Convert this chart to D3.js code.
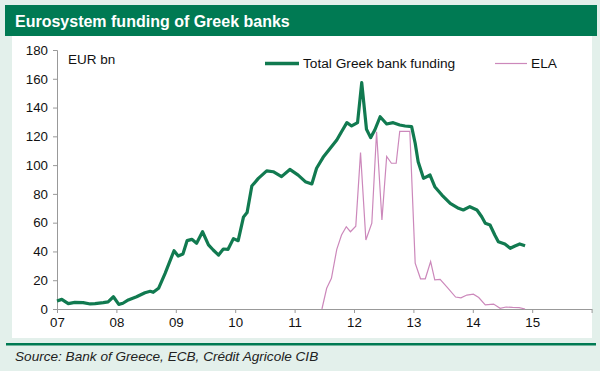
<!DOCTYPE html>
<html><head><meta charset="utf-8">
<script src="https://cdn.jsdelivr.net/npm/d3@7"></script>
<style>
html,body{margin:0;padding:0;background:#e3f0eb;}
svg{display:block;font-family:"Liberation Sans",Arial,sans-serif;}
</style></head>
<body>
<svg id="c" width="600" height="371"></svg>
<script>
const title = "Eurosystem funding of Greek banks";
const source = "Source: Bank of Greece, ECB, Crédit Agricole CIB";
const unitLabel = "EUR bn";
const seriesNames = ["Total Greek bank funding", "ELA"];
const yTicks = [0, 20, 40, 60, 80, 100, 120, 140, 160, 180];
const xTicks = [2007, 2008, 2009, 2010, 2011, 2012, 2013, 2014, 2015, 2016];
const xTickLabels = ["07", "08", "09", "10", "11", "12", "13", "14", "15", ""];

const totalDates = [2007.00,2007.08,2007.19,2007.30,2007.44,2007.56,2007.64,2007.78,2007.86,2007.95,
  2008.04,2008.11,2008.20,2008.34,2008.48,2008.57,2008.62,2008.71,2008.82,2008.97,
  2009.04,2009.12,2009.19,2009.27,2009.35,2009.45,2009.55,2009.63,2009.72,2009.80,2009.88,2009.97,
  2010.05,2010.14,2010.20,2010.28,2010.39,2010.53,2010.64,2010.78,2010.92,
  2011.06,2011.18,2011.29,2011.37,2011.48,2011.60,2011.71,2011.79,2011.88,2011.96,
  2012.06,2012.13,2012.21,2012.28,2012.35,2012.44,2012.55,2012.66,2012.77,2012.86,2012.97,
  2013.03,2013.08,2013.17,2013.28,2013.36,2013.48,2013.62,2013.76,2013.84,2013.95,
  2014.07,2014.15,2014.21,2014.29,2014.37,2014.43,2014.54,2014.63,2014.71,2014.79,2014.88];
const totalValues = [5.6,6.7,3.7,4.6,4.4,3.5,3.7,4.4,5,8.5,
  3.2,4,6.3,8.5,11.3,12.3,11.6,14.4,24.8,40.5,
  36.8,38.2,47.5,48.4,45.7,53.7,44.5,41,37.5,41.7,41.5,48.9,
  47.5,64,67,85.5,90.8,96,95.4,92,97,
  93,88.5,86.9,97.8,105.4,111.7,117.4,123.2,129.5,127.2,
  129.5,157.3,124.9,119.1,124.4,133.6,128.6,129.5,127.9,127.2,126.7,
  115.2,102.4,90.8,93.1,85,79.2,73.4,70,68.8,71.1,
  68.8,64.1,59.6,58.4,51.4,46.8,45.2,42.2,43.8,45.2,44];

const elaDates = [2011.46,2011.54,2011.62,2011.71,2011.79,2011.87,2011.94,
  2012.03,2012.11,2012.20,2012.30,2012.38,2012.47,2012.55,2012.63,2012.71,2012.77,2012.94,
  2013.03,2013.12,2013.20,2013.29,2013.36,2013.45,2013.57,2013.71,2013.80,2013.90,
  2014.01,2014.10,2014.21,2014.35,2014.46,2014.56,2014.67,2014.78,2014.88];
const elaValues = [0,14.4,21.3,41.5,51.4,57.2,53.7,
  57.5,108.7,48,59.6,123.2,61.9,106,101.3,101.3,123.5,123.5,
  31.8,21,21,32.9,20.2,20.6,15,8.3,7.8,9.7,
  10.3,8,2.8,3.4,0.5,1.4,1.1,1,0];

const svg = d3.select("#c");
const green = "#007a53";
const lineGreen = "#117a50";
const pink = "#cc88bb";

// title bar
svg.append("rect").attr("x",5).attr("y",5).attr("width",592).attr("height",31).attr("fill",green);
svg.append("text").attr("x",15).attr("y",27).attr("fill","#fff").attr("font-weight","bold")
  .attr("font-size",16).text(title);
// white panel
svg.append("rect").attr("x",12).attr("y",36).attr("width",580).attr("height",302).attr("fill","#fff");
// separator
svg.append("rect").attr("x",6).attr("y",343).attr("width",590).attr("height",2.5).attr("fill",green);
svg.append("text").attr("x",15).attr("y",361).attr("font-style","italic").attr("font-size",13.6)
  .attr("fill","#222").text(source);

const x = d3.scaleLinear().domain([2007, 2016]).range([57, 591.6]);
const y = d3.scaleLinear().domain([0, 180]).range([309, 50]);

const yAxis = d3.axisLeft(y).tickValues(yTicks).tickSize(4).tickPadding(5);
const gy = svg.append("g").attr("transform","translate(57,0)").call(yAxis);
gy.selectAll("text").attr("font-size",13.3).attr("fill","#111").attr("font-family","'Liberation Sans',Arial,sans-serif");
gy.selectAll("line,path").attr("stroke","#999");

const xAxis = d3.axisBottom(x).tickValues(xTicks).tickFormat((d,i)=>xTickLabels[i]).tickSize(4).tickSizeOuter(0).tickPadding(5);
const gx = svg.append("g").attr("transform","translate(0,309)").call(xAxis);
gx.selectAll("text").attr("font-size",13.3).attr("fill","#111").attr("font-family","'Liberation Sans',Arial,sans-serif");
gx.selectAll("line,path").attr("stroke","#999");

svg.append("text").attr("x",68).attr("y",64).attr("font-size",13.5).attr("fill","#111").text(unitLabel);

const line = d3.line().x(d=>x(d[0])).y(d=>y(d[1]));
svg.append("path").datum(elaDates.map((d,i)=>[d, elaValues[i]]))
  .attr("d", line).attr("fill","none").attr("stroke",pink).attr("stroke-width",1.2);
svg.append("path").datum(totalDates.map((d,i)=>[d, totalValues[i]]))
  .attr("d", line).attr("fill","none").attr("stroke",lineGreen).attr("stroke-width",3.2).attr("stroke-linejoin","round");

// legend
svg.append("line").attr("x1",265).attr("x2",299).attr("y1",63.5).attr("y2",63.5).attr("stroke",lineGreen).attr("stroke-width",3.5);
svg.append("text").attr("x",303).attr("y",68).attr("font-size",13.7).attr("fill","#111").text(seriesNames[0]);
svg.append("line").attr("x1",495).attr("x2",527).attr("y1",63.5).attr("y2",63.5).attr("stroke",pink).attr("stroke-width",1.2);
svg.append("text").attr("x",531).attr("y",68).attr("font-size",13.7).attr("fill","#111").text(seriesNames[1]);
</script>
</body></html>
